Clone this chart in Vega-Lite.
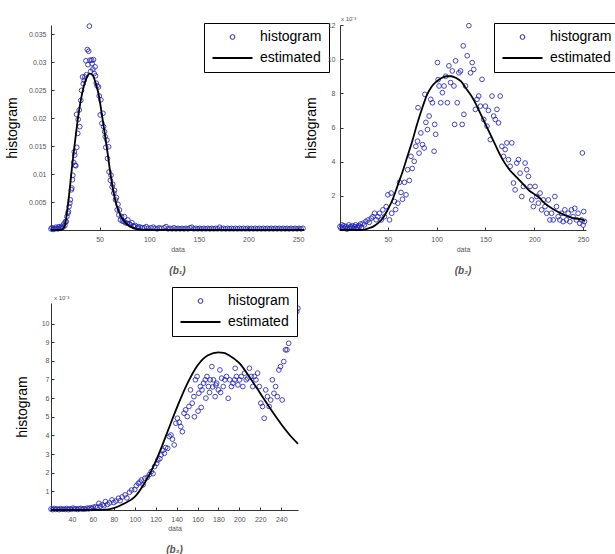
{
  "$schema": "https://vega.github.io/schema/vega-lite/v6.json",
  "padding": {"left": 5, "top": 16, "right": 0, "bottom": 0},
  "config": {
    "font": "Liberation Sans",
    "view": {"stroke": null},
    "axis": {"grid": false, "domainColor": "#333", "tickColor": "#333", "labelFontSize": 7, "labelColor": "#555", "titleFontWeight": "normal", "tickSize": -3, "labelPadding": 8, "labelOverlap": false},
    "title": {"fontSize": 10, "fontStyle": "italic", "fontWeight": "bold", "color": "#555", "offset": 14},
    "legend": {"orient": "none", "strokeColor": "black", "fillColor": "white", "padding": 7, "rowPadding": 7, "labelFontSize": 14, "labelColor": "black", "labelOffset": 6, "cornerRadius": 0, "symbolOpacity": 1, "clipHeight": 14}
  },
  "resolve": {"scale": {"color": "independent", "shape": "independent", "size": "independent", "strokeWidth": "independent"}, "legend": {"color": "independent", "shape": "independent", "size": "independent", "strokeWidth": "independent"}},
  "columns": 2,
  "bounds": "flush",
  "spacing": {"row": 73, "column": 36},
  "datasets": {
    "h1": [
      {"x":1,"y":0.0002},{"x":2,"y":0.0004},{"x":3,"y":0.0001},{"x":4,"y":0.0003},{"x":5,"y":0.0002},{"x":6,"y":0.0005},{"x":7,"y":0.0003},{"x":8,"y":0.0002},{"x":9,"y":0.0006},{"x":10,"y":0.0004},{"x":11,"y":0.0003},{"x":12,"y":0.0007},{"x":13,"y":0.0005},{"x":14,"y":0.0011},
      {"x":15,"y":0.0008},{"x":15.5,"y":0.0015},{"x":16.4,"y":0.0015},{"x":17,"y":0.0024},{"x":18,"y":0.003},{"x":18.6,"y":0.0033},{"x":19.2,"y":0.0042},{"x":20,"y":0.0048},{"x":20.5,"y":0.0054},{"x":21.5,"y":0.0072},{"x":22,"y":0.0075},{"x":22.6,"y":0.009},{"x":23,"y":0.0098},{"x":23.9,"y":0.0121},{"x":24.5,"y":0.014},{"x":24.9,"y":0.0134},{"x":25.2,"y":0.0116},{"x":26,"y":0.0115},{"x":26.7,"y":0.0207},{"x":27,"y":0.0148},{"x":28,"y":0.0173},{"x":28.4,"y":0.0198},{"x":29.5,"y":0.0215},{"x":30,"y":0.0185},{"x":31,"y":0.0232},{"x":31.8,"y":0.025},{"x":32.8,"y":0.0274},{"x":33.5,"y":0.0262},{"x":34.5,"y":0.0268},{"x":35.2,"y":0.0274},{"x":36.2,"y":0.0303},{"x":36.7,"y":0.0278},{"x":37.6,"y":0.0323},{"x":38.2,"y":0.0296},{"x":39,"y":0.032},{"x":39.7,"y":0.0365},{"x":40.3,"y":0.0304},{"x":41,"y":0.0284},{"x":42,"y":0.0304},{"x":42.5,"y":0.0298},{"x":43.2,"y":0.0288},{"x":43.8,"y":0.0305},{"x":44.5,"y":0.028},{"x":45.4,"y":0.0292},{"x":45.9,"y":0.0276},{"x":46.6,"y":0.0263},{"x":47.5,"y":0.0258},{"x":48.9,"y":0.0256},{"x":49.6,"y":0.024},{"x":50.6,"y":0.0206},{"x":51.3,"y":0.0233},{"x":52.3,"y":0.0191},{"x":53.3,"y":0.0209},{"x":54,"y":0.0185},{"x":55,"y":0.0176},{"x":55.7,"y":0.0167},{"x":56.2,"y":0.0148},{"x":57.4,"y":0.0161},{"x":58,"y":0.0128},{"x":59.1,"y":0.0149},{"x":59.5,"y":0.0104},{"x":60.8,"y":0.0089},{"x":61.5,"y":0.0098},{"x":62.6,"y":0.0077},{"x":63.2,"y":0.0082},{"x":64.3,"y":0.0066},{"x":65,"y":0.0071},{"x":66,"y":0.0054},{"x":67,"y":0.0058},{"x":67.7,"y":0.0036},{"x":68.5,"y":0.0046},{"x":69.4,"y":0.0027},{"x":70,"y":0.0036},{"x":71,"y":0.0018},{"x":72,"y":0.0024},{"x":73,"y":0.0016},{"x":74.5,"y":0.0015},{"x":75,"y":0.0024},{"x":76,"y":0.0013},{"x":77.9,"y":0.0012},{"x":78.5,"y":0.0018},{"x":80,"y":0.0011},{"x":81.3,"y":0.0009},{"x":82.5,"y":0.0013},{"x":84,"y":0.0007},{"x":84.8,"y":0.0006},{"x":86,"y":0.0008},{"x":88.2,"y":0.0004},{"x":89,"y":0.0006},{"x":91,"y":0.0005},{"x":93,"y":0.0004},{"x":95,"y":0.0004},{"x":97,"y":0.0006},{"x":99,"y":0.0003},{"x":101.7,"y":0.0004},{"x":104,"y":0.0005},{"x":106,"y":0.0003},{"x":108,"y":0.0002},{"x":110,"y":0.0004},{"x":112,"y":0.0003},{"x":115,"y":0.0004},{"x":117,"y":0.0006},{"x":119,"y":0.0002},
      {"x":121,"y":0.0003},{"x":123,"y":0.0002},{"x":125,"y":0.0004},{"x":127,"y":0.0002},{"x":129,"y":0.0003},{"x":131,"y":0.0002},{"x":133,"y":0.0003},{"x":135,"y":0.0002},{"x":137,"y":0.0003},{"x":139,"y":0.0002},{"x":141,"y":0.0004},{"x":143,"y":0.0005},{"x":145,"y":0.0002},{"x":147,"y":0.0003},{"x":149,"y":0.0002},{"x":151,"y":0.0003},{"x":153,"y":0.0002},{"x":155,"y":0.0003},{"x":157,"y":0.0002},{"x":159,"y":0.0003},{"x":161,"y":0.0002},{"x":163,"y":0.0003},{"x":165,"y":0.0002},{"x":167,"y":0.0003},{"x":169,"y":0.0002},{"x":171,"y":0.0005},{"x":173,"y":0.0002},{"x":175,"y":0.0003},{"x":177,"y":0.0002},{"x":179,"y":0.0003},{"x":181,"y":0.0002},{"x":183,"y":0.0003},{"x":185,"y":0.0002},{"x":187,"y":0.0003},{"x":189,"y":0.0002},{"x":191,"y":0.0003},{"x":193,"y":0.0002},{"x":195,"y":0.0003},{"x":197,"y":0.0002},{"x":199,"y":0.0003},{"x":201,"y":0.0002},{"x":203,"y":0.0003},{"x":205,"y":0.0002},{"x":207,"y":0.0003},{"x":209,"y":0.0002},{"x":211,"y":0.0003},{"x":213,"y":0.0002},{"x":215,"y":0.0003},{"x":217,"y":0.0002},{"x":219,"y":0.0003},{"x":221,"y":0.0002},{"x":223,"y":0.0003},{"x":225,"y":0.0002},{"x":227,"y":0.0003},{"x":229,"y":0.0002},{"x":231,"y":0.0003},{"x":233,"y":0.0002},{"x":235,"y":0.0003},{"x":237,"y":0.0002},{"x":239,"y":0.0003},{"x":241,"y":0.0002},{"x":243,"y":0.0003},{"x":245,"y":0.0002},{"x":247,"y":0.0003},{"x":249,"y":0.0002},{"x":251,"y":0.0003},{"x":253,"y":0.0002},{"x":255,"y":0.0003}
    ],
    "l1": [
      {"x":1,"y":0},{"x":10,"y":0},{"x":13,"y":0.0002},{"x":15,"y":0.0008},{"x":17,"y":0.003},{"x":20,"y":0.0075},{"x":22,"y":0.011},{"x":25,"y":0.0155},{"x":28,"y":0.0198},{"x":31,"y":0.0232},{"x":34,"y":0.0257},{"x":37,"y":0.0273},{"x":40,"y":0.028},{"x":43,"y":0.0277},{"x":46,"y":0.0263},{"x":49,"y":0.0243},{"x":52,"y":0.021},{"x":55,"y":0.0175},{"x":58,"y":0.0138},{"x":61,"y":0.01},{"x":64,"y":0.0068},{"x":67,"y":0.0045},{"x":70,"y":0.003},{"x":75,"y":0.0015},{"x":80,"y":0.0007},{"x":85,"y":0.0003},{"x":90,"y":0.0001},{"x":100,"y":0},{"x":150,"y":0},{"x":200,"y":0},{"x":256,"y":0}
    ],
    "h2": [
      {"x":1,"y":0.2},{"x":2,"y":0.1},{"x":3,"y":0.3},{"x":4,"y":0.15},{"x":5,"y":0.25},{"x":6,"y":0.1},{"x":7,"y":0.2},{"x":8,"y":0.05},{"x":9,"y":0.15},{"x":10,"y":0.3},{"x":11,"y":0.1},{"x":12,"y":0.2},{"x":13,"y":0.15},{"x":14,"y":0.25},{"x":15,"y":0.1},{"x":16,"y":0.2},{"x":17,"y":0.3},{"x":18,"y":0.1},{"x":19,"y":0.15},{"x":20,"y":0.25},{"x":21,"y":0.2},{"x":22,"y":0.35},{"x":23,"y":0.15},{"x":24.6,"y":0.39},{"x":26,"y":0.3},{"x":27.5,"y":0.5},
      {"x":29.7,"y":0.59},{"x":31,"y":0.45},{"x":33,"y":0.69},{"x":34.7,"y":0.78},{"x":36.4,"y":0.98},{"x":38,"y":0.6},{"x":39.8,"y":0.78},{"x":41.5,"y":0.98},{"x":43.2,"y":0.59},{"x":44.9,"y":1.18},{"x":46.6,"y":0.78},{"x":48.3,"y":1.37},{"x":50,"y":2.06},{"x":51.7,"y":0.59},{"x":53.4,"y":2.16},{"x":54,"y":0.98},{"x":56.8,"y":1.67},{"x":58,"y":1.2},{"x":60.2,"y":1.57},{"x":61.9,"y":2.79},{"x":63.5,"y":2.2},{"x":65,"y":1.8},{"x":67,"y":2.79},{"x":68.6,"y":2.06},{"x":70.3,"y":3.53},{"x":72,"y":2.9},{"x":73.7,"y":4.31},{"x":75,"y":3.6},{"x":77,"y":4.02},{"x":78.7,"y":4.9},{"x":80.4,"y":5.2},{"x":80.9,"y":7.16},{"x":82,"y":4.5},{"x":83.8,"y":5.68},{"x":85.5,"y":5.0},{"x":87.2,"y":4.8},{"x":87.9,"y":7.94},{"x":89,"y":6.3},{"x":90.6,"y":5.88},{"x":92.3,"y":6.67},{"x":94,"y":7.65},{"x":95.7,"y":7.45},{"x":97.4,"y":4.61},{"x":98,"y":6.18},{"x":99,"y":5.6},{"x":100.8,"y":9.8},{"x":101.5,"y":8.8},{"x":102.5,"y":8.43},{"x":104.2,"y":7.45},{"x":105.9,"y":8.04},{"x":107.6,"y":8.43},{"x":109.3,"y":9.0},{"x":111,"y":7.45},{"x":112.6,"y":9.61},{"x":114.3,"y":8.63},{"x":116,"y":9.31},{"x":117.7,"y":8.43},{"x":118.4,"y":6.18},{"x":119.4,"y":9.9},{"x":121.1,"y":7.45},{"x":122.8,"y":9.2},{"x":124.5,"y":9.31},{"x":126.2,"y":6.18},{"x":127.2,"y":10.78},{"x":127.9,"y":6.77},{"x":129.6,"y":8.43},{"x":131.3,"y":10.2},{"x":133,"y":11.96},{"x":134.7,"y":9.2},{"x":136.4,"y":9.8},{"x":138,"y":9.4},{"x":139.7,"y":7.06},{"x":141.4,"y":7.65},{"x":143.1,"y":7.84},{"x":144.8,"y":7.25},{"x":146.5,"y":8.82},{"x":148.2,"y":6.47},{"x":149.9,"y":7.25},{"x":151.6,"y":6.08},{"x":153,"y":7.0},{"x":155,"y":5.29},{"x":156.7,"y":7.84},{"x":158.4,"y":6.67},{"x":160.1,"y":6.47},{"x":161.8,"y":7.06},{"x":163.4,"y":6.27},{"x":165.1,"y":7.84},{"x":166.8,"y":4.9},{"x":168.5,"y":4.31},{"x":170.2,"y":4.71},{"x":171.9,"y":5.1},{"x":173.6,"y":4.12},{"x":175.3,"y":3.73},{"x":177,"y":5.1},{"x":178.7,"y":2.75},{"x":180.4,"y":2.35},{"x":182.1,"y":3.92},{"x":183.8,"y":4.12},{"x":185.5,"y":3.33},{"x":187.2,"y":1.96},{"x":188.9,"y":2.55},{"x":190.6,"y":3.92},{"x":192.3,"y":3.53},{"x":194,"y":3.14},{"x":195.7,"y":2.55},{"x":197.4,"y":1.76},{"x":199.1,"y":1.37},{"x":200.8,"y":2.55},{"x":202.5,"y":1.96},{"x":204.2,"y":1.57},{"x":205.9,"y":2.16},{"x":207.6,"y":1.18},{"x":209.3,"y":1.76},{"x":211,"y":1.37},{"x":212.7,"y":0.98},{"x":214.4,"y":1.76},{"x":216,"y":0.59},{"x":217.7,"y":0.98},{"x":219.4,"y":0.59},{"x":221.1,"y":1.96},{"x":222.8,"y":1.37},{"x":224.5,"y":0.78},{"x":226.2,"y":0.59},{"x":227.9,"y":0.98},{"x":229.6,"y":0.49},{"x":231.3,"y":1.18},{"x":233,"y":0.59},{"x":234.7,"y":0.98},{"x":236.4,"y":0.49},{"x":238.1,"y":1.18},{"x":239.8,"y":0.78},{"x":241.5,"y":1.27},{"x":243.2,"y":0.59},{"x":244.9,"y":0.98},{"x":246.6,"y":0.39},{"x":248.3,"y":0.59},{"x":249.3,"y":4.51},{"x":250,"y":0.29},{"x":250.7,"y":1.08},{"x":251.5,"y":0.5}
    ],
    "l2": [
      {"x":1,"y":0},{"x":20,"y":0},{"x":26,"y":0.02},{"x":30,"y":0.1},{"x":35,"y":0.2},{"x":40,"y":0.4},{"x":45,"y":0.7},{"x":50,"y":1.2},{"x":55,"y":1.8},{"x":60,"y":2.6},{"x":65,"y":3.4},{"x":70,"y":4.3},{"x":75,"y":5.2},{"x":80,"y":6.2},{"x":85,"y":7.1},{"x":90,"y":7.9},{"x":95,"y":8.4},{"x":100,"y":8.7},{"x":105,"y":8.9},{"x":110,"y":9.0},{"x":115,"y":9.0},{"x":120,"y":8.9},{"x":125,"y":8.7},{"x":130,"y":8.3},{"x":135,"y":7.9},{"x":140,"y":7.4},{"x":145,"y":6.8},{"x":150,"y":6.2},{"x":155,"y":5.6},{"x":160,"y":5.0},{"x":165,"y":4.4},{"x":170,"y":3.9},{"x":175,"y":3.5},{"x":180,"y":3.2},{"x":185,"y":2.9},{"x":190,"y":2.6},{"x":195,"y":2.3},{"x":200,"y":2.1},{"x":205,"y":1.9},{"x":210,"y":1.6},{"x":220,"y":1.2},{"x":230,"y":0.9},{"x":240,"y":0.7},{"x":250,"y":0.6},{"x":252,"y":0.5}
    ],
    "h3": [
      {"x":20,"y":0.05},{"x":21.5,"y":0.02},{"x":23,"y":0.08},{"x":24.5,"y":0.03},{"x":26,"y":0.06},{"x":27.5,"y":0.02},{"x":29,"y":0.07},{"x":30.5,"y":0.04},{"x":32,"y":0.05},{"x":33.5,"y":0.03},{"x":35,"y":0.08},{"x":36.5,"y":0.02},{"x":38,"y":0.06},{"x":39.5,"y":0.04},{"x":41,"y":0.1},{"x":42.5,"y":0.05},{"x":44,"y":0.07},{"x":45.5,"y":0.03},{"x":47,"y":0.06},{"x":48.5,"y":0.09},{"x":50,"y":0.04},{"x":51.5,"y":0.07},{"x":53,"y":0.05},{"x":54.5,"y":0.1},{"x":56,"y":0.06},{"x":57.5,"y":0.12},{"x":59,"y":0.08},{"x":60.5,"y":0.15},{"x":62.7,"y":0.18},{"x":64,"y":0.12},{"x":65.8,"y":0.36},{"x":67,"y":0.2},{"x":69,"y":0.28},{"x":70.5,"y":0.22},{"x":72,"y":0.45},{"x":74,"y":0.3},{"x":76,"y":0.38},{"x":78.3,"y":0.54},{"x":80,"y":0.4},{"x":82,"y":0.48},{"x":84.5,"y":0.63},{"x":86,"y":0.5},{"x":88,"y":0.7},{"x":90.8,"y":0.81},{"x":92.5,"y":0.65},{"x":95,"y":0.95},{"x":97,"y":1.07},{"x":100,"y":1.1},{"x":101.5,"y":1.3},{"x":103.4,"y":1.43},{"x":105,"y":1.5},{"x":106.5,"y":1.61},{"x":108,"y":1.35},{"x":109.6,"y":1.7},{"x":112,"y":1.75},{"x":114,"y":1.9},{"x":115.8,"y":2.06},{"x":117.5,"y":1.95},{"x":119,"y":2.33},{"x":121,"y":2.5},{"x":122.1,"y":2.68},{"x":124,"y":2.75},{"x":125.2,"y":2.95},{"x":127,"y":3.2},{"x":128.3,"y":3.04},{"x":129.5,"y":3.35},{"x":131.5,"y":3.31},{"x":133,"y":3.94},{"x":134.6,"y":4.02},{"x":136,"y":3.8},{"x":137.7,"y":3.49},{"x":139.3,"y":4.65},{"x":140.8,"y":4.92},{"x":142.5,"y":4.7},{"x":144,"y":4.47},{"x":145.5,"y":4.2},{"x":147.1,"y":5.19},{"x":148.6,"y":5.37},{"x":150.2,"y":5.01},{"x":151.8,"y":5.55},{"x":153.3,"y":6.44},{"x":154.9,"y":5.73},{"x":156.5,"y":6.08},{"x":157,"y":5.0},{"x":158,"y":6.98},{"x":159.6,"y":7.16},{"x":160.5,"y":5.3},{"x":161.2,"y":6.26},{"x":162.7,"y":6.62},{"x":163.5,"y":5.5},{"x":164.3,"y":6.44},{"x":165.8,"y":6.8},{"x":167.4,"y":6.98},{"x":168,"y":6.0},{"x":169,"y":7.16},{"x":170.5,"y":6.62},{"x":171.5,"y":6.3},{"x":172.1,"y":6.98},{"x":173.7,"y":7.69},{"x":174.5,"y":6.6},{"x":175.2,"y":6.98},{"x":176.8,"y":6.08},{"x":177.5,"y":6.7},{"x":178.3,"y":6.8},{"x":179.9,"y":6.44},{"x":181.4,"y":7.51},{"x":182,"y":6.3},{"x":183,"y":7.07},{"x":184.6,"y":6.62},{"x":186.1,"y":6.98},{"x":187.7,"y":7.16},{"x":189.3,"y":5.99},{"x":190.8,"y":6.98},{"x":192.4,"y":6.62},{"x":193.9,"y":6.8},{"x":195.5,"y":6.98},{"x":196,"y":7.6},{"x":197.1,"y":7.16},{"x":198.6,"y":6.71},{"x":200.2,"y":6.98},{"x":201.8,"y":7.16},{"x":203.3,"y":6.62},{"x":204.9,"y":7.34},{"x":206.5,"y":6.98},{"x":208,"y":7.07},{"x":209.6,"y":7.6},{"x":211.2,"y":7.16},{"x":212.7,"y":6.62},{"x":214.3,"y":7.16},{"x":215.8,"y":6.98},{"x":217.4,"y":7.34},{"x":219,"y":6.62},{"x":220.5,"y":5.73},{"x":222.1,"y":5.55},{"x":223.7,"y":4.92},{"x":225.2,"y":6.44},{"x":226.8,"y":6.08},{"x":228.4,"y":5.55},{"x":229.9,"y":5.9},{"x":231.5,"y":6.98},{"x":233,"y":6.26},{"x":234.6,"y":6.62},{"x":236.2,"y":6.08},{"x":237.7,"y":7.51},{"x":239.3,"y":7.69},{"x":240.9,"y":5.9},{"x":242.4,"y":7.96},{"x":244,"y":8.59},{"x":245.5,"y":8.59},{"x":247.1,"y":8.94},{"x":250.2,"y":10.02},{"x":253.4,"y":10.38},{"x":254.9,"y":10.64},{"x":255.9,"y":10.82}
    ],
    "l3": [
      {"x":20,"y":0},{"x":60,"y":0},{"x":70,"y":0.01},{"x":80,"y":0.1},{"x":90,"y":0.35},{"x":100,"y":0.7},{"x":110,"y":1.5},{"x":120,"y":2.6},{"x":130,"y":4.0},{"x":140,"y":5.45},{"x":150,"y":6.75},{"x":160,"y":7.75},{"x":170,"y":8.3},{"x":180,"y":8.45},{"x":185,"y":8.43},{"x":190,"y":8.3},{"x":200,"y":7.87},{"x":210,"y":7.1},{"x":220,"y":6.25},{"x":230,"y":5.4},{"x":240,"y":4.6},{"x":250,"y":3.9},{"x":256,"y":3.55}
    ],
    "exp": [{"t": "x 10⁻³"}]
  },
  "concat": [
    {
      "width": 253, "height": 205,
      "title": {"text": "(b₁)", "orient": "bottom"},
      "layer": [
        {
          "data": {"name": "h1"},
          "mark": {"type": "point", "filled": false, "opacity": 0.85},
          "encoding": {
            "x": {"field": "x", "type": "quantitative", "scale": {"domain": [1, 256], "nice": false, "zero": false}, "axis": {"values": [50, 100, 150, 200, 250], "format": "d", "tickCount": 30, "labelOverlap": false, "title": "data", "titleFontSize": 7, "titleColor": "#555", "titlePadding": 3}},
            "y": {"field": "y", "type": "quantitative", "scale": {"domain": [0, 0.0367], "nice": false}, "axis": {"values": [0.005, 0.01, 0.015, 0.02, 0.025, 0.03, 0.035], "tickCount": 30, "labelOverlap": false, "format": "~g", "title": "histogram", "titleFontSize": 14, "titleColor": "black", "titlePadding": 9}},
            "color": {"datum": "histogram", "type": "nominal", "scale": {"domain": ["histogram", "estimated"], "range": ["#2424b8", "#000000"]}, "legend": {"title": null, "legendX": 153, "legendY": -2}},
            "shape": {"datum": "histogram", "type": "nominal", "scale": {"domain": ["histogram", "estimated"], "range": ["circle", "stroke"]}, "legend": {"title": null, "legendX": 153, "legendY": -2}},
            "size": {"datum": "histogram", "type": "nominal", "scale": {"type": "ordinal", "domain": ["histogram", "estimated"], "range": [22, 1600]}, "legend": {"title": null, "legendX": 153, "legendY": -2}},
            "strokeWidth": {"datum": "histogram", "type": "nominal", "scale": {"type": "ordinal", "domain": ["histogram", "estimated"], "range": [1.0, 2.2]}, "legend": {"title": null, "legendX": 153, "legendY": -2}}
          }
        },
        {
          "data": {"name": "l1"},
          "mark": {"type": "line", "color": "black", "strokeWidth": 1.8, "interpolate": "monotone"},
          "encoding": {"x": {"field": "x", "type": "quantitative"}, "y": {"field": "y", "type": "quantitative"}}
        }
      ]
    },
    {
      "width": 246, "height": 205,
      "title": {"text": "(b₂)", "orient": "bottom"},
      "layer": [
        {
          "data": {"name": "h2"},
          "mark": {"type": "point", "filled": false, "opacity": 0.85},
          "encoding": {
            "x": {"field": "x", "type": "quantitative", "scale": {"domain": [1, 253], "nice": false, "zero": false}, "axis": {"values": [50, 100, 150, 200, 250], "format": "d", "tickCount": 30, "labelOverlap": false, "title": "data", "titleFontSize": 7, "titleColor": "#555", "titlePadding": 3}},
            "y": {"field": "y", "type": "quantitative", "scale": {"domain": [0, 12], "nice": false}, "axis": {"values": [2, 4, 6, 8, 10, 12], "format": "d", "tickCount": 30, "labelOverlap": false, "title": "histogram", "titleFontSize": 14, "titleColor": "black", "titlePadding": 9}},
            "color": {"datum": "histogram", "type": "nominal", "scale": {"domain": ["histogram", "estimated"], "range": ["#2424b8", "#000000"]}, "legend": {"title": null, "legendX": 154, "legendY": -2}},
            "shape": {"datum": "histogram", "type": "nominal", "scale": {"domain": ["histogram", "estimated"], "range": ["circle", "stroke"]}, "legend": {"title": null, "legendX": 154, "legendY": -2}},
            "size": {"datum": "histogram", "type": "nominal", "scale": {"type": "ordinal", "domain": ["histogram", "estimated"], "range": [22, 1600]}, "legend": {"title": null, "legendX": 154, "legendY": -2}},
            "strokeWidth": {"datum": "histogram", "type": "nominal", "scale": {"type": "ordinal", "domain": ["histogram", "estimated"], "range": [1.0, 2.2]}, "legend": {"title": null, "legendX": 154, "legendY": -2}}
          }
        },
        {
          "data": {"name": "l2"},
          "mark": {"type": "line", "color": "black", "strokeWidth": 1.8, "interpolate": "monotone"},
          "encoding": {"x": {"field": "x", "type": "quantitative"}, "y": {"field": "y", "type": "quantitative"}}
        },
        {
          "data": {"name": "exp"},
          "mark": {"type": "text", "align": "left", "baseline": "bottom", "dy": -3, "dx": 1, "fontSize": 6, "color": "#555"},
          "encoding": {"x": {"datum": 1, "type": "quantitative"}, "y": {"datum": 12, "type": "quantitative"}, "text": {"field": "t"}}
        }
      ]
    },
    {
      "width": 247, "height": 207,
      "title": {"text": "(b₃)", "orient": "bottom"},
      "layer": [
        {
          "data": {"name": "h3"},
          "mark": {"type": "point", "filled": false, "opacity": 0.85},
          "encoding": {
            "x": {"field": "x", "type": "quantitative", "scale": {"domain": [20, 256], "nice": false, "zero": false}, "axis": {"values": [40, 60, 80, 100, 120, 140, 160, 180, 200, 220, 240], "format": "d", "tickCount": 30, "labelOverlap": false, "title": "data", "titleFontSize": 7, "titleColor": "#555", "titlePadding": 2}},
            "y": {"field": "y", "type": "quantitative", "scale": {"domain": [0, 11.1], "nice": false}, "axis": {"values": [1, 2, 3, 4, 5, 6, 7, 8, 9, 10], "format": "d", "tickCount": 30, "labelOverlap": false, "title": "histogram", "titleFontSize": 14, "titleColor": "black", "titlePadding": 12, "labelPadding": 5}},
            "color": {"datum": "histogram", "type": "nominal", "scale": {"domain": ["histogram", "estimated"], "range": ["#2424b8", "#000000"]}, "legend": {"title": null, "legendX": 121, "legendY": -16}},
            "shape": {"datum": "histogram", "type": "nominal", "scale": {"domain": ["histogram", "estimated"], "range": ["circle", "stroke"]}, "legend": {"title": null, "legendX": 121, "legendY": -16}},
            "size": {"datum": "histogram", "type": "nominal", "scale": {"type": "ordinal", "domain": ["histogram", "estimated"], "range": [22, 1600]}, "legend": {"title": null, "legendX": 121, "legendY": -16}},
            "strokeWidth": {"datum": "histogram", "type": "nominal", "scale": {"type": "ordinal", "domain": ["histogram", "estimated"], "range": [1.0, 2.2]}, "legend": {"title": null, "legendX": 121, "legendY": -16}}
          }
        },
        {
          "data": {"name": "l3"},
          "mark": {"type": "line", "color": "black", "strokeWidth": 1.8, "interpolate": "monotone"},
          "encoding": {"x": {"field": "x", "type": "quantitative"}, "y": {"field": "y", "type": "quantitative"}}
        },
        {
          "data": {"name": "exp"},
          "mark": {"type": "text", "align": "left", "baseline": "bottom", "dy": -2, "dx": 3, "fontSize": 6, "color": "#555"},
          "encoding": {"x": {"datum": 20, "type": "quantitative"}, "y": {"datum": 11.1, "type": "quantitative"}, "text": {"field": "t"}}
        }
      ]
    }
  ]
}
